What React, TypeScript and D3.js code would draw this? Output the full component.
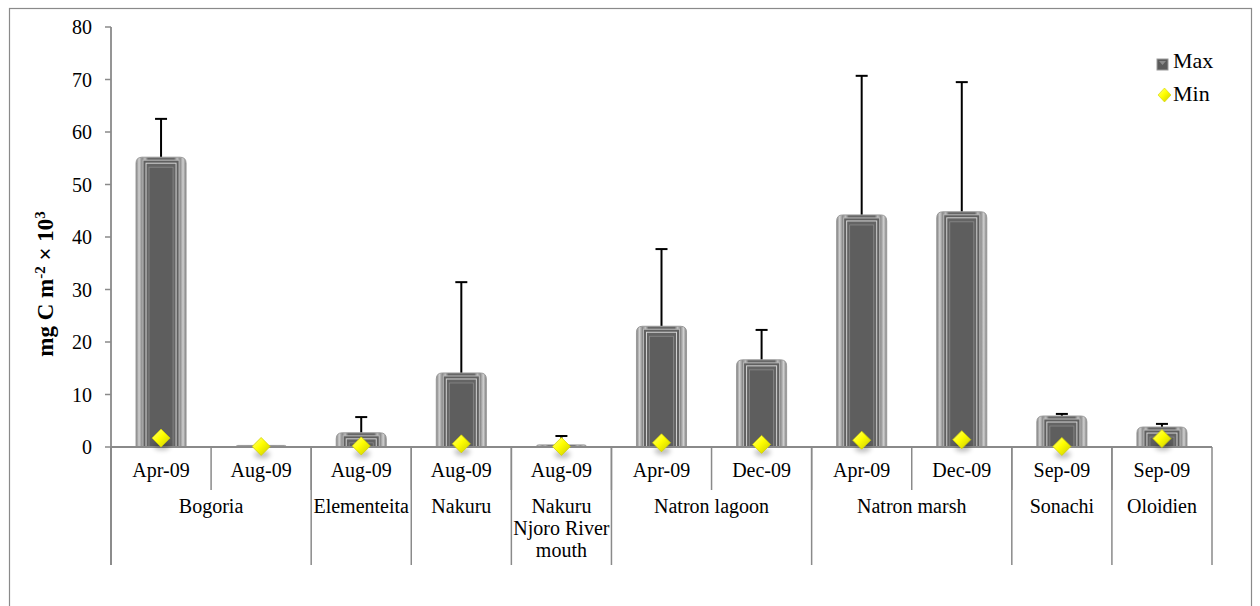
import React from "react";
import * as d3 from "d3";

// Sampling campaigns, grouped by site
const categories = [
  "Apr-09", "Aug-09", "Aug-09", "Aug-09", "Aug-09",
  "Apr-09", "Dec-09", "Apr-09", "Dec-09", "Sep-09", "Sep-09",
];
const groups = [
  { name: ["Bogoria"], start: 0, end: 2 },
  { name: ["Elementeita"], start: 2, end: 3 },
  { name: ["Nakuru"], start: 3, end: 4 },
  { name: ["Nakuru", "Njoro River", "mouth"], start: 4, end: 5 },
  { name: ["Natron lagoon"], start: 5, end: 7 },
  { name: ["Natron marsh"], start: 7, end: 9 },
  { name: ["Sonachi"], start: 9, end: 10 },
  { name: ["Oloidien"], start: 10, end: 11 },
];
const maxValues = [55.2, 0.3, 2.7, 14.1, 0.4, 23.0, 16.6, 44.2, 44.8, 5.9, 3.8];
const maxErrors = [7.3, 0.1, 3.0, 17.3, 1.7, 14.7, 5.7, 26.5, 24.7, 0.4, 0.6];
const minValues = [1.7, 0.1, 0.2, 0.6, 0.1, 0.8, 0.5, 1.3, 1.4, 0.1, 1.6];
const yTicks = [0, 10, 20, 30, 40, 50, 60, 70, 80];

const W = 1260;
const H = 606;
const plot = { left: 111, right: 1212, top: 27, bottom: 447 };
const font = "Liberation Serif, Times New Roman, DejaVu Serif, serif";
const txt: React.CSSProperties = { fontFamily: font };
const axisColor = "#8a8a8a";

function barPath(x: number, y: number, w: number, h: number, r: number) {
  const rr = Math.min(r, h, w / 2);
  return `M${x},${y + h} L${x},${y + rr} Q${x},${y} ${x + rr},${y} L${x + w - rr},${y} Q${x + w},${y} ${x + w},${y + rr} L${x + w},${y + h} Z`;
}

export default function App() {
  const idx = categories.map((_, i) => i);
  const x = d3.scaleBand<number>().domain(idx).range([plot.left, plot.right]).paddingInner(0).paddingOuter(0);
  const y = d3.scaleLinear().domain([0, 80]).range([plot.bottom, plot.top]);
  const step = x.step();
  const barW = step * 0.5;

  return (
    <svg
      width={W}
      height={H}
      style={{ position: "absolute", left: 0, top: 0, background: "#fff", fontFamily: font }}
    >
      <defs>
        <linearGradient id="barSide" x1="0" x2="1" y1="0" y2="0">
          <stop offset="0" stopColor="#7c7c7c" />
          <stop offset="0.06" stopColor="#d0d0d0" />
          <stop offset="0.12" stopColor="#8a8a8a" />
          <stop offset="0.18" stopColor="#bdbdbd" />
          <stop offset="0.24" stopColor="#676767" />
          <stop offset="0.76" stopColor="#676767" />
          <stop offset="0.82" stopColor="#bdbdbd" />
          <stop offset="0.88" stopColor="#8a8a8a" />
          <stop offset="0.94" stopColor="#d0d0d0" />
          <stop offset="1" stopColor="#7c7c7c" />
        </linearGradient>
        <linearGradient id="diamondFill" x1="0" x2="1" y1="0" y2="1">
          <stop offset="0" stopColor="#ffff8a" />
          <stop offset="0.45" stopColor="#ffff00" />
          <stop offset="1" stopColor="#c9c900" />
        </linearGradient>
        <filter id="soft" x="-50%" y="-50%" width="200%" height="200%">
          <feGaussianBlur stdDeviation="2.5" />
        </filter>
      </defs>

      {/* chart frame */}
      <rect x={9.5} y={8.5} width={1242} height={620} fill="none" stroke="#8a8a8a" strokeWidth={1.2} />

      {/* y axis */}
      <line x1={plot.left} x2={plot.left} y1={plot.top} y2={565} stroke={axisColor} strokeWidth={1.8} />
      {yTicks.map((t) => (
        <g key={t}>
          <line x1={plot.left - 6} x2={plot.left} y1={y(t)} y2={y(t)} stroke={axisColor} strokeWidth={1.5} />
          <text x={plot.left - 19} y={y(t)} dy="0.35em" textAnchor="end" fontSize={20} fill="#000" style={txt}>
            {t}
          </text>
        </g>
      ))}
      <text
        transform={`translate(53, 284) rotate(-90)`}
        textAnchor="middle"
        fontSize={23}
        fontWeight="bold"
        fill="#000"
        style={txt}
      >
        {"mg  C m"}
        <tspan dy={-8} fontSize={15}>-2</tspan>
        <tspan dy={8}>{" × 10"}</tspan>
        <tspan dy={-8} fontSize={15}>3</tspan>
      </text>

      {/* bars with error bars */}
      {maxValues.map((v, i) => {
        const cx = (x(i) as number) + step / 2;
        const bx = cx - barW / 2;
        const top = y(v);
        const h = plot.bottom - top;
        const errTop = y(v + maxErrors[i]);
        const inset = Math.min(7, barW / 6);
        return (
          <g key={"b" + i}>
            <line x1={cx} x2={cx} y1={top} y2={errTop} stroke="#000" strokeWidth={2} />
            <line x1={cx - 6} x2={cx + 6} y1={errTop} y2={errTop} stroke="#000" strokeWidth={2} />
            <path d={barPath(bx, top, barW, h, 6)} fill="url(#barSide)" stroke="#9a9a9a" strokeWidth={1} />
            {h > 8 && (
              <>
                <rect
                  x={bx + inset}
                  y={top + 3}
                  width={barW - 2 * inset}
                  height={h - 3}
                  fill="#606060"
                  stroke="#b8b8b8"
                  strokeWidth={1}
                />
                <rect
                  x={bx + inset + 3}
                  y={top + 6}
                  width={barW - 2 * inset - 6}
                  height={h - 6}
                  fill="#646464"
                  stroke="#d4d4d4"
                  strokeWidth={1}
                />
                <rect
                  x={bx + inset + 6}
                  y={top + 10}
                  width={barW - 2 * inset - 12}
                  height={Math.max(0, h - 10)}
                  fill="#5e5e5e"
                  stroke="#8a8a8a"
                  strokeWidth={0.8}
                />
              </>
            )}
          </g>
        );
      })}

      {/* x axis baseline */}
      <line x1={plot.left} x2={plot.right} y1={plot.bottom} y2={plot.bottom} stroke={axisColor} strokeWidth={1.8} />

      {/* min markers */}
      {minValues.map((v, i) => {
        const cx = (x(i) as number) + step / 2;
        const cy = y(v);
        const r = 9;
        return (
          <g key={"m" + i}>
            <ellipse cx={cx + 1} cy={cy + 8} rx={8} ry={4} fill="#000" opacity={0.25} filter="url(#soft)" />
            <path
              d={`M${cx},${cy - r} L${cx + r},${cy} L${cx},${cy + r} L${cx - r},${cy} Z`}
              fill="url(#diamondFill)"
              stroke="#d2d200"
              strokeWidth={0.8}
            />
          </g>
        );
      })}

      {/* category axis: inner ticks and date labels */}
      {idx.map((i) => {
        const x0 = x(i) as number;
        return (
          <g key={"c" + i}>
            <line x1={x0} x2={x0} y1={plot.bottom} y2={490} stroke={axisColor} strokeWidth={1.5} />
            <text x={x0 + step / 2} y={477} textAnchor="middle" fontSize={20} fill="#000" style={txt}>
              {categories[i]}
            </text>
          </g>
        );
      })}
      <line x1={plot.right} x2={plot.right} y1={plot.bottom} y2={565} stroke={axisColor} strokeWidth={1.5} />

      {/* site groups */}
      {groups.map((g) => {
        const x0 = x(g.start) as number;
        const x1 = g.end >= categories.length ? plot.right : (x(g.end) as number);
        return (
          <g key={g.name.join(" ")}>
            <line x1={x0} x2={x0} y1={plot.bottom} y2={565} stroke={axisColor} strokeWidth={1.5} />
            {g.name.map((line, k) => (
              <text key={k} x={(x0 + x1) / 2} y={513 + k * 22} textAnchor="middle" fontSize={20} fill="#000" style={txt}>
                {line}
              </text>
            ))}
          </g>
        );
      })}

      {/* legend */}
      <g>
        <rect x={1157} y={59} width={11} height={11} fill="#5a5a5a" stroke="#9a9a9a" strokeWidth={1} />
        <path d="M1159,61 L1166,61 L1162.5,65 Z" fill="#8a8a8a" />
        <text x={1173} y={68} fontSize={22} fill="#000" style={txt}>Max</text>
        <path d="M1164.5,88 L1171,95 L1164.5,102 L1158,95 Z" fill="url(#diamondFill)" stroke="#d2d200" strokeWidth={0.6} />
        <text x={1173} y={101} fontSize={22} fill="#000" style={txt}>Min</text>
      </g>
    </svg>
  );
}
